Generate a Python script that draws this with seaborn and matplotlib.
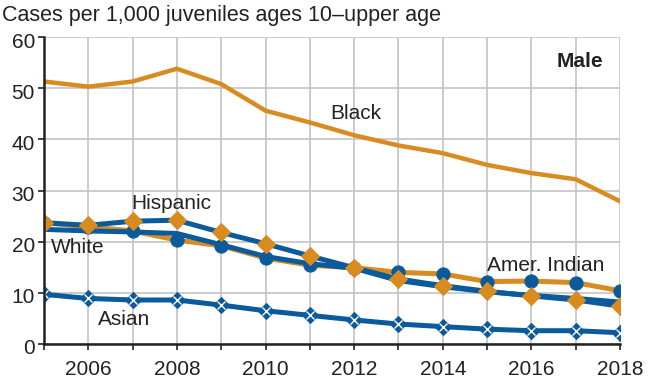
import matplotlib
matplotlib.use("Agg")
import matplotlib.pyplot as plt
import matplotlib.transforms as mtransforms
import seaborn as sns
import pandas as pd

years = list(range(2005, 2019))
black = [51.3, 50.3, 51.3, 53.8, 50.8, 45.6, 43.3, 40.8, 38.8, 37.3, 35.0, 33.4, 32.2, 27.9]
hispanic = [23.7, 23.2, 24.0, 24.2, 21.8, 19.6, 17.2, 14.9, 12.7, 11.4, 10.3, 9.4, 8.6, 7.4]
white = [22.4, 22.1, 21.9, 21.6, 19.4, 17.1, 15.7, 14.8, 12.4, 11.2, 10.2, 9.5, 8.9, 8.2]
amer_indian = [23.7, 22.9, 22.1, 20.3, 19.2, 16.8, 15.4, 14.9, 14.0, 13.7, 12.2, 12.3, 12.0, 10.4]
asian = [9.7, 8.9, 8.6, 8.6, 7.6, 6.5, 5.6, 4.7, 3.9, 3.4, 2.9, 2.6, 2.6, 2.2]

x_tick_labels = ["2006", "2008", "2010", "2012", "2014", "2016", "2018"]
y_ticks = [0, 10, 20, 30, 40, 50, 60]

ORANGE = "#D88B1F"
BLUE = "#0A5A9C"
TXT = "#222222"

sns.set_theme(style="white")
plt.rcParams["font.family"] = ["Liberation Sans", "DejaVu Sans"]

fig = plt.figure(figsize=(6.58, 3.84), dpi=100)
ax = fig.add_axes([44 / 658, 1 - 344 / 384, (620 - 44) / 658, (344 - 37) / 384])

df = pd.DataFrame({"year": years, "black": black, "hispanic": hispanic,
                   "white": white, "amer": amer_indian, "asian": asian})

# Black
sns.lineplot(data=df, x="year", y="black", ax=ax, color=ORANGE, lw=3.2, zorder=3)
# Asian
sns.lineplot(data=df, x="year", y="asian", ax=ax, color=BLUE, lw=3.6, marker="D",
             markersize=8, markerfacecolor=BLUE, markeredgecolor=BLUE, zorder=3)
ax.plot(df["year"], df["asian"], ls="none", marker="x", markersize=6,
        markeredgecolor="white", markeredgewidth=1.0, zorder=3.1)
# Amer. Indian: orange line, blue circles
sns.lineplot(data=df, x="year", y="amer", ax=ax, color=ORANGE, lw=3.6, marker="o",
             markersize=9.5, markerfacecolor=BLUE, markeredgecolor=BLUE, zorder=4)
# White
sns.lineplot(data=df, x="year", y="white", ax=ax, color=BLUE, lw=3.6, zorder=5)
# Hispanic: blue line, orange diamonds
sns.lineplot(data=df, x="year", y="hispanic", ax=ax, color=BLUE, lw=3.6, marker="D",
             markersize=9, markerfacecolor=ORANGE, markeredgecolor=ORANGE, zorder=6)

ax.set_xlim(2005, 2018)
ax.set_ylim(0, 60)
ax.set_xticks(years)
ax.set_xticklabels([str(y) if str(y) in x_tick_labels else "" for y in years])
ax.set_yticks(y_ticks)
ax.set_yticklabels([str(v) for v in y_ticks])
ax.set_xlabel("")
ax.set_ylabel("")
ax.grid(True, color="#C4C4C4", lw=1.2, zorder=0)
ax.set_axisbelow(True)
for s in ["top", "right"]:
    ax.spines[s].set_visible(False)
for s in ["left", "bottom"]:
    ax.spines[s].set_color(TXT)
    ax.spines[s].set_linewidth(1.8)
    ax.spines[s].set_zorder(7)
ax.tick_params(axis="both", which="major", length=4.5, width=1.2, color=TXT,
               labelsize=15, labelcolor=TXT, direction="out")
ax.tick_params(axis="x", bottom=True, pad=7)
ax.tick_params(axis="y", left=True, pad=2)
offset = mtransforms.ScaledTranslation(0, -3 / 100, fig.dpi_scale_trans)
for lab in ax.get_yticklabels():
    lab.set_transform(lab.get_transform() + offset)

txt = dict(fontsize=15, color=TXT, ha="center", va="center", zorder=8)
ax.text(2012.04, 45.0, "Black", **txt)
ax.text(2007.87, 27.5, "Hispanic", **txt)
ax.text(2005.77, 18.9, "White", **txt)
ax.text(2016.33, 15.4, "Amer. Indian", **txt)
ax.text(2006.8, 4.7, "Asian", **txt)
ax.text(2017.1, 55.3, "Male", fontsize=15, fontweight="bold", color=TXT,
        ha="center", va="center")

fig.text(0.003, 1 - 16 / 384, "Cases per 1,000 juveniles ages 10\u2013upper age",
         fontsize=15.5, color=TXT, ha="left", va="center")

fig.savefig("out.png", dpi=100)
